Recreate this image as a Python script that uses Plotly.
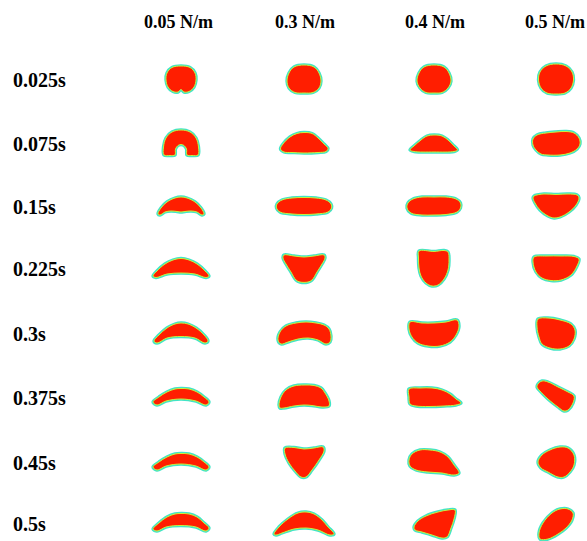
import plotly.graph_objects as go

# Surface tension cases (columns) and sampled times (rows)
tensions = ["0.05 N/m", "0.3 N/m", "0.4 N/m", "0.5 N/m"]
times = ["0.025s", "0.075s", "0.15s", "0.225s", "0.3s", "0.375s", "0.45s", "0.5s"]

# Droplet interface outlines, (dx, dy) in px around each cell centre, y pointing down
drops_005 = [
    [(0, -13), (9, -11.5), (14, -6), (15, 1), (13, 8), (8, 12.5), (3, 13), (0, 10.5), (-3, 13), (-8, 12.5), (-13, 8), (-15, 1), (-14, -6), (-9, -11.5)],
    [(-17, 12), (-17.5, 4), (-15, -5), (-9, -11), (0, -13), (9, -11), (15, -5), (17.5, 4), (17, 12), (11, 12.5), (6, 12), (5.5, 6), (3, 2.5), (0, 1.5), (-3, 2.5), (-5.5, 6), (-6, 12), (-11, 12.5)],
    [(-23, 8), (-20, 2), (-14, -4), (-6, -8), (0, -9), (6, -8), (14, -4), (20, 2), (23, 8), (21, 9), (16, 6), (10, 5), (4, 5.5), (0, 6), (-4, 5.5), (-10, 5), (-16, 6), (-21, 9)],
    [(-28, 8), (-24, 3), (-16, -4), (-8, -8), (0, -9.5), (8, -8), (16, -4), (24, 3), (28, 8), (25, 9.5), (14, 6), (0, 5), (-14, 6), (-25, 9.5)],
    [(-27, 8), (-22, 2), (-14, -5), (-6, -9), (0, -10), (7, -9), (15, -5), (23, 2), (27, 8), (24, 10), (14, 5), (0, 3.5), (-14, 5), (-24, 10)],
    [(-28, 5), (-22, 0), (-14, -5), (-6, -8), (0, -8.5), (8, -8), (16, -5), (23, 0), (28, 5), (25, 8), (15, 4), (0, 2), (-15, 4), (-24, 8)],
    [(-28, 5), (-22, 0), (-14, -5), (-6, -8), (0, -8.5), (8, -8), (16, -5), (23, 0), (28, 5), (25, 8), (15, 4), (0, 2), (-15, 4), (-24, 8)],
    [(-28, 6), (-22, 0), (-14, -6), (-6, -9), (0, -9.5), (8, -9), (16, -6), (23, 0), (28, 5), (25, 8), (15, 4), (0, 2.5), (-15, 4), (-24, 8)],
]
drops_03 = [
    [(0, -14), (10, -12), (15, -6), (17, 2), (15, 9), (9, 13.5), (0, 14), (-9, 13.5), (-15, 9), (-17, 2), (-15, -6), (-10, -12)],
    [(0, -10.5), (8, -9.5), (14, -5), (20, 1), (24, 5.5), (22, 8.5), (14, 9.5), (0, 10), (-12, 9.5), (-20, 9), (-23.5, 6), (-21, 1), (-14, -6), (-7, -9.5)],
    [(0, -8.5), (12, -8), (22, -6), (27, -2), (27.5, 2), (24, 6), (12, 8), (0, 8.5), (-12, 8), (-24, 6), (-27.5, 2), (-27, -2), (-22, -6), (-12, -8)],
    [(-20, -13), (-10, -12), (0, -11), (10, -12), (20, -13), (21, -10), (18, -4), (13, 4), (8, 12), (4, 14), (-4, 14), (-8, 12), (-13, 4), (-18, -4), (-21, -10)],
    [(-26, 7), (-24, -1), (-18, -7), (-8, -10), (2, -11), (12, -10), (20, -8), (25, -4), (27, 3), (26, 9), (22, 11), (14, 7), (4, 5), (-6, 6), (-16, 9), (-23, 11)],
    [(-25, 8), (-23, 0), (-18, -7), (-10, -11), (0, -12), (10, -11.5), (17, -9), (21, -4), (25, 4), (25, 9), (18, 10), (8, 8.5), (0, 8), (-10, 9), (-20, 11), (-24, 11)],
    [(-19, -14), (-10, -14.5), (0, -13), (10, -14), (19, -15), (20, -11), (15, -2), (8, 8), (2, 15), (-3, 15), (-9, 9), (-15, 1), (-19, -8)],
    [(-30, 11), (-25, 4), (-16, -4), (-6, -10), (2, -11), (10, -9), (18, -3), (24, 4), (30, 11), (26, 12), (14, 7), (2, 5), (-10, 6), (-22, 10), (-28, 12)],
]
drops_04 = [
    [(0, -14), (10, -12), (15, -6), (17, 2), (14, 9), (8, 13.5), (0, 14), (-8, 13.5), (-14, 9), (-17, 2), (-15, -6), (-10, -12)],
    [(0, -8), (8, -7), (14, -3), (20, 3), (23.5, 7), (20, 8.5), (0, 9), (-20, 8.5), (-24, 7), (-20, 3), (-13, -3), (-7, -7)],
    [(0, -9), (12, -9), (22, -7), (26.5, -3), (26.5, 2), (23, 6), (12, 8.5), (0, 9), (-12, 9), (-23, 7), (-27, 2), (-26, -3), (-21, -7), (-12, -9)],
    [(-15, -17), (0, -16.5), (10, -17.5), (14, -16), (15, -8), (14, 2), (10, 11), (4, 17), (-2, 18), (-8, 15), (-13, 8), (-15, 0), (-15.5, -10)],
    [(-24, -11), (-12, -10), (0, -10), (12, -11), (23, -13), (25, -7), (22, 2), (16, 9), (6, 13), (-6, 13), (-16, 10), (-22, 4), (-25, -4)],
    [(-25, -8), (-14, -9), (-2, -9), (8, -7), (16, -3), (22, 2), (27, 6), (22, 8), (10, 9), (-5, 9.5), (-18, 9), (-24, 7), (-25, 0)],
    [(-25, -2), (-22, -8), (-14, -12), (-4, -12), (6, -10), (14, -5), (20, 3), (25, 11), (20, 13), (8, 11), (-6, 10), (-18, 8), (-24, 4)],
    [(-20, 4), (-16, -2), (-8, -7), (4, -11), (14, -13), (21, -13), (20, -4), (17, 5), (13, 14), (8, 15), (-2, 12), (-12, 9), (-19, 7)],
]
drops_05 = [
    [(0, -15), (10, -13), (16, -7), (17.5, 1), (15, 9), (9, 14), (0, 15), (-9, 14), (-15, 9), (-17.5, 1), (-16, -7), (-10, -13)],
    [(0, -11), (10, -11.5), (18, -10), (23, -5), (24, 1), (21, 6), (14, 10), (4, 12), (-8, 12), (-15, 11), (-20, 7), (-23, 2), (-23, -4), (-19, -8), (-10, -10)],
    [(-22, -10), (-12, -12), (0, -11.5), (12, -12), (21, -11), (23, -8), (20, -1), (13, 6), (4, 11), (-2, 12), (-8, 10), (-16, 4), (-21, -3), (-23, -8)],
    [(-22, -11), (-10, -12), (5, -12), (18, -11.5), (23, -9), (21, -2), (15, 7), (5, 12), (-5, 12.5), (-14, 10), (-20, 4), (-23, -6)],
    [(-18, -14), (-8, -15), (4, -13), (15, -9), (19, -3), (18, 6), (13, 13), (4, 16), (-6, 15), (-14, 11), (-17, 4), (-19, -6)],
    [(-18, -13), (-14, -16), (-8, -15), (2, -10), (12, -5), (18, -1), (17, 6), (12, 13), (8, 14), (2, 10), (-8, 2), (-16, -6), (-19, -10)],
    [(-18, 0), (-14, -7), (-6, -12), (4, -15), (12, -14), (18, -7), (18, 3), (14, 10), (8, 15), (2, 15), (-8, 10), (-15, 6)],
    [(-4, -10), (4, -14), (12, -14), (17, -10), (16, -3), (10, 5), (2, 11), (-8, 16), (-16, 16), (-17, 10), (-13, 0)],
]
columns = [drops_005, drops_03, drops_04, drops_05]

# Grid layout (px)
COL_X = [181, 304, 434, 556]
HEADER_X = [178, 305, 435, 555]
ROW_Y = [79, 143, 206, 268, 333, 397, 462, 523]
LABEL_X = 11
HEADER_Y = 22
W, H = 587, 541

LABEL_FONT = dict(family="Liberation Serif, Times New Roman, serif", size=20, color="black")
HEADER_FONT = dict(family="Liberation Serif, Times New Roman, serif", size=18, color="black")
RED = "#ff1e00"
RIM_OUTER = "#40e4c8"
RIM_INNER = "#c8f040"

fig = go.Figure()

for ci, col in enumerate(columns):
    for ri, pts in enumerate(col):
        xs = [COL_X[ci] + p[0] for p in pts] + [COL_X[ci] + pts[0][0]]
        ys = [ROW_Y[ri] + p[1] for p in pts] + [ROW_Y[ri] + pts[0][1]]
        # cyan rim of the interface
        fig.add_trace(go.Scatter(
            x=xs, y=ys, mode="lines",
            line=dict(color=RIM_OUTER, width=3.4, shape="spline", smoothing=1.0),
            hoverinfo="skip", showlegend=False,
        ))
        # liquid body
        fig.add_trace(go.Scatter(
            x=xs, y=ys, mode="lines", fill="toself", fillcolor=RED,
            line=dict(color=RIM_INNER, width=1.0, shape="spline", smoothing=1.0),
            name=f"{tensions[ci]} {times[ri]}", hoverinfo="name", showlegend=False,
        ))

annotations = []
for ci, t in enumerate(tensions):
    annotations.append(dict(
        x=HEADER_X[ci], y=HEADER_Y, xref="x", yref="y", text=f"<b>{t}</b>",
        showarrow=False, font=HEADER_FONT, xanchor="center", yanchor="middle",
    ))
for ri, t in enumerate(times):
    annotations.append(dict(
        x=LABEL_X, y=ROW_Y[ri] + 1, xref="x", yref="y", text=f"<b>{t}</b>",
        showarrow=False, font=LABEL_FONT, xanchor="left", yanchor="middle",
    ))

fig.update_layout(
    width=W, height=H,
    margin=dict(l=0, r=0, t=0, b=0),
    paper_bgcolor="white", plot_bgcolor="white",
    xaxis=dict(range=[0, W], visible=False, fixedrange=True),
    yaxis=dict(range=[H, 0], visible=False, fixedrange=True),
    annotations=annotations,
)

fig.write_html("out.html")
